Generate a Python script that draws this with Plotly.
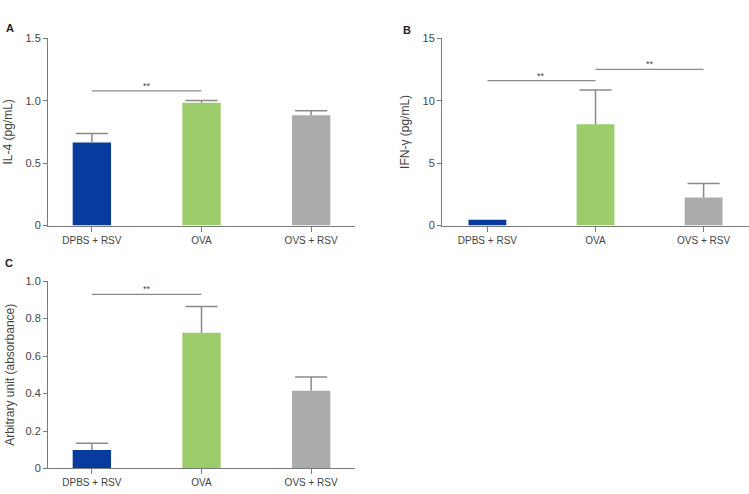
import plotly.graph_objects as go

categories = ["DPBS + RSV", "OVA", "OVS + RSV"]
colors = ["#073c9e", "#9dcc6b", "#a9abad"]

il4_mean = [0.664, 0.984, 0.883]
il4_err = [0.072, 0.018, 0.037]
ifn_mean = [0.47, 8.1, 2.25]
ifn_err = [0.0, 2.75, 1.12]
abs_mean = [0.099, 0.724, 0.415]
abs_err = [0.036, 0.141, 0.073]

il4_ticks = [0, 0.5, 1.0, 1.5]
il4_ticktext = ["0", "0.5", "1.0", "1.5"]
ifn_ticks = [0, 5, 10, 15]
ifn_ticktext = ["0", "5", "10", "15"]
abs_ticks = [0, 0.2, 0.4, 0.6, 0.8, 1.0]
abs_ticktext = ["0", "0.2", "0.4", "0.6", "0.8", "1.0"]

# significance brackets: (from category, to category, height)
il4_sig = [("DPBS + RSV", "OVA", 1.078)]
ifn_sig = [("DPBS + RSV", "OVA", 11.6), ("OVA", "OVS + RSV", 12.5)]
abs_sig = [("DPBS + RSV", "OVA", 0.929)]

W, H = 749, 494
FONT = "Liberation Sans, Arial, sans-serif"
AXC = "#7a7a7a"
TXT = "#444444"
ERRC = "#8a8a8a"

fig = go.Figure()

panels = [
    ("x", "y", il4_mean, il4_err, il4_sig),
    ("x2", "y2", ifn_mean, ifn_err, ifn_sig),
    ("x3", "y3", abs_mean, abs_err, abs_sig),
]

for xa, ya, mean, err, sigs in panels:
    fig.add_trace(go.Bar(
        x=categories, y=mean, xaxis=xa, yaxis=ya,
        marker=dict(color=colors, line=dict(width=0)),
        width=0.35, showlegend=False, hoverinfo="skip",
    ))
    # upward-only error bars: stems + top caps
    sx, sy, cx, cy = [], [], [], []
    for c, m, e in zip(categories, mean, err):
        if e <= 0:
            continue
        sx += [c, c, None]
        sy += [m, m + e, None]
        cx.append(c)
        cy.append(m + e)
    fig.add_trace(go.Scatter(
        x=sx, y=sy, xaxis=xa, yaxis=ya, mode="lines",
        line=dict(color=ERRC, width=1.5), showlegend=False, hoverinfo="skip",
    ))
    fig.add_trace(go.Scatter(
        x=cx, y=cy, xaxis=xa, yaxis=ya, mode="markers",
        marker=dict(symbol="line-ew", size=23, line=dict(color=ERRC, width=1.5)),
        showlegend=False, hoverinfo="skip",
    ))
    for a, b, h in sigs:
        fig.add_trace(go.Scatter(
            x=[a, b], y=[h, h], xaxis=xa, yaxis=ya, mode="lines",
            line=dict(color=ERRC, width=1.2),
            showlegend=False, hoverinfo="skip",
        ))

def xax(domain, anchor, rng):
    return dict(domain=domain, anchor=anchor, range=rng, showline=True,
                linecolor=AXC, linewidth=1, ticks="outside", ticklen=5,
                tickcolor=AXC, showgrid=False, zeroline=False,
                tickfont=dict(family=FONT, size=10, color=TXT),
                categoryorder="array", categoryarray=categories)

def yax(domain, anchor, rng, tv, tt, title, standoff):
    return dict(domain=domain, anchor=anchor, range=rng, showline=True,
                linecolor=AXC, linewidth=1, ticks="outside", ticklen=4,
                tickcolor=AXC, showgrid=False, zeroline=False,
                tickvals=tv, ticktext=tt,
                tickfont=dict(family=FONT, size=11, color=TXT),
                title=dict(text=title, standoff=standoff,
                           font=dict(family=FONT, size=12, color=TXT)))

yA = [(H - 225) / H, (H - 33) / H]
yC = [(H - 474) / H, (H - 282) / H]
xA = [48 / W, 355 / W]
xB = [442 / W, 1.0]

fig.update_layout(
    width=W, height=H, margin=dict(l=0, r=0, t=0, b=0),
    paper_bgcolor="white", plot_bgcolor="white",
    xaxis=xax(xA, "y", [-0.4, 2.4]),
    yaxis=yax(yA, "x", [0, 1.5], il4_ticks, il4_ticktext, "IL-4 (pg/mL)", 10),
    xaxis2=xax(xB, "y2", [-0.42, 2.42]),
    yaxis2=yax(yA, "x2", [0, 15], ifn_ticks, ifn_ticktext, "IFN-γ (pg/mL)", 10),
    xaxis3=xax(xA, "y3", [-0.4, 2.4]),
    yaxis3=yax(yC, "x3", [0, 1.0], abs_ticks, abs_ticktext,
               "Arbitrary unit (absorbance)", 8),
)

ann = []
for xa, ya, sigs in [("x", "y", il4_sig), ("x2", "y2", ifn_sig), ("x3", "y3", abs_sig)]:
    for a, b, h in sigs:
        ia, ib = categories.index(a), categories.index(b)
        ann.append(dict(x=(ia + ib) / 2, y=h, xref=xa, yref=ya, text="**",
                        showarrow=False, yanchor="bottom", yshift=-2,
                        font=dict(family=FONT, size=9, color=TXT)))

for t, px, py in [("A", 4, 14), ("B", 407, 16), ("C", 3, 263)]:
    ann.append(dict(x=px / W, y=1 - py / H, xref="paper", yref="paper",
                    text="<b>" + t + "</b>", showarrow=False,
                    font=dict(family=FONT, size=11, color="#222222")))

fig.update_layout(annotations=ann)

fig.write_html("out.html")
